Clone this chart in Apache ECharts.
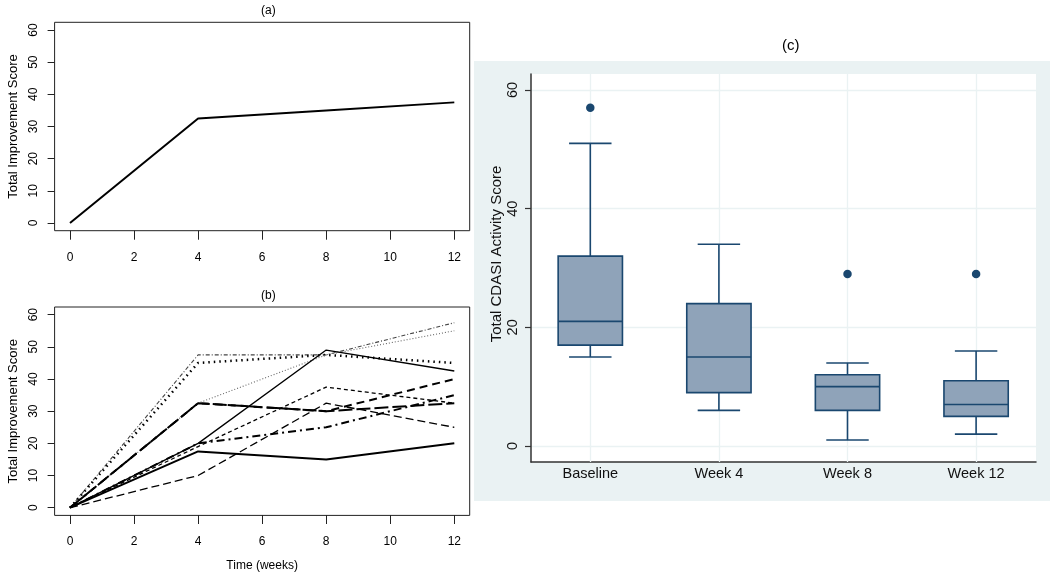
<!DOCTYPE html>
<html><head><meta charset="utf-8">
<script src="https://cdn.jsdelivr.net/npm/echarts@6/dist/echarts.min.js"></script>
<style>html,body{margin:0;padding:0;background:#fff}#c{width:1050px;height:573px}</style>
</head><body><div id="c"></div>
<script>
// ---------- data ----------
const weeks = [0, 4, 8, 12];
const overallImprovement = [0, 32.5, 35, 37.5];

const patient1 = [0, 47.5, 47.5, 57.5];
const patient2 = [0, 45, 47.5, 45];
const patient3 = [0, 32.5, 47.5, 55];
const patient4 = [0, 20, 49, 42.5];
const patient5 = [0, 17.5, 15, 20];
const patient6 = [0, 32.5, 30, 32.5];
const patient7 = [0, 32.5, 30, 40];
const patient8 = [0, 20, 25, 35];
const patient9 = [0, 19, 37.5, 32.5];
const patient10 = [0, 10, 32.5, 25];

const visits = ['Baseline', 'Week 4', 'Week 8', 'Week 12'];
const whiskerLow = [15, 6, 1, 2];
const q1 = [17, 9, 6, 5];
const median = [21, 15, 10, 7];
const q3 = [32, 24, 12, 11];
const whiskerHigh = [51, 34, 14, 16];
const outlierVisit = ['Baseline', 'Week 8', 'Week 12'];
const outlierValue = [57, 29, 29];

// ---------- layout ----------
const FONT = 'Liberation Sans, Arial, sans-serif';
const hidden = (g) => ({ gridIndex: g, type: 'value', show: false, min: 0, max: 1 });

const frame = (top) => ({ left: 54.6, top: top, width: 415.1, height: 208.4, show: true,
  borderColor: '#222', borderWidth: 1, backgroundColor: 'transparent' });

const grids = [
  { left: 474, top: 61, right: 0, bottom: 72, show: true, backgroundColor: '#eaf2f3', borderWidth: 0 }, // 0 c outer bg
  { left: 531, top: 74, width: 505, height: 388, show: true, backgroundColor: '#ffffff', borderWidth: 0 }, // 1 c plot bg
  { left: 526, top: 74, width: 514.4, height: 388 }, // 2 c vertical grid lines
  { left: 531, top: 90, width: 505, height: 356 }, // 3 c y axis + horizontal grid
  { left: 526, top: 90, width: 514.4, height: 356 }, // 4 c data
  frame(22.3),                                        // 5 a frame
  { left: 70, top: 30, width: 384.3, height: 193 },   // 6 a data
  { left: 70, top: 22.3, width: 384.3, height: 208.4 }, // 7 a x ticks
  { left: 54.6, top: 30, width: 415.1, height: 193 },   // 8 a y ticks
  frame(307),                                         // 9 b frame
  { left: 70, top: 314.7, width: 384.3, height: 193 }, // 10 b data
  { left: 70, top: 307, width: 384.3, height: 208.4 }, // 11 b x ticks
  { left: 54.6, top: 314.7, width: 415.1, height: 193 }, // 12 b y ticks
  { left: 531, top: 74, width: 505, height: 388 }      // 13 c axis lines
];

const rWeekAxis = (g, name) => ({
  gridIndex: g, type: 'value', min: 0, max: 12, interval: 2,
  axisLine: { show: false },
  axisTick: { show: true, length: 9, lineStyle: { color: '#222', width: 1 } },
  axisLabel: { fontSize: 12, color: '#000', margin: 21, fontFamily: FONT },
  splitLine: { show: false },
  name: name || '', nameLocation: 'middle', nameGap: 45,
  nameTextStyle: { fontSize: 12, color: '#000', fontFamily: FONT }
});
const rScoreAxis = (g) => ({
  gridIndex: g, type: 'value', min: 0, max: 60, interval: 10,
  axisLine: { show: false },
  axisTick: { show: true, length: 7, lineStyle: { color: '#222', width: 1 } },
  axisLabel: { fontSize: 12, color: '#000', margin: 15, rotate: 90, fontFamily: FONT },
  splitLine: { show: false },
  name: 'Total Improvement Score', nameLocation: 'middle', nameGap: 35, nameRotate: 90,
  nameTextStyle: { fontSize: 13, color: '#000', fontFamily: FONT }
});
const hiddenX = (g) => ({ gridIndex: g, type: 'value', min: 0, max: 12, show: false });
const hiddenY = (g) => ({ gridIndex: g, type: 'value', min: 0, max: 60, show: false });

const xAxes = [
  hidden(0), hidden(1),
  { gridIndex: 2, type: 'category', data: visits, boundaryGap: true,
    axisLine: { show: false }, axisLabel: { show: false }, splitLine: { show: false },
    axisTick: { show: true, alignWithLabel: true, inside: true, length: 388, lineStyle: { color: '#eaf2f3', width: 1.3 } } },
  hidden(3),
  { gridIndex: 4, type: 'category', data: visits, boundaryGap: true, offset: 15.7,
    axisLine: { show: false }, axisTick: { show: false }, splitLine: { show: false },
    axisLabel: { fontSize: 14.5, color: '#111', margin: 5, fontFamily: FONT } },
  hidden(5), hiddenX(6), rWeekAxis(7), hiddenX(8),
  hidden(9), hiddenX(10), rWeekAxis(11, 'Time (weeks)'), hiddenX(12),
  { gridIndex: 13, type: 'value', min: 0, max: 1,
    axisLine: { show: true, lineStyle: { color: '#333', width: 1.5 } },
    axisTick: { show: false }, axisLabel: { show: false }, splitLine: { show: false } }
];
const yAxes = [
  hidden(0), hidden(1), hidden(2),
  { gridIndex: 3, type: 'value', min: 0, max: 60, interval: 20,
    axisLine: { show: false },
    axisTick: { show: true, length: 6, lineStyle: { color: '#333', width: 1.2 } },
    axisLabel: { fontSize: 14.5, color: '#111', margin: 11, rotate: 90, fontFamily: FONT },
    splitLine: { show: true, lineStyle: { color: '#eaf2f3', width: 1.3 } },
    name: 'Total CDASI Activity Score', nameLocation: 'middle', nameGap: 25, nameRotate: 90,
    nameTextStyle: { fontSize: 15, color: '#111', fontFamily: FONT, padding: [0, 0, 0, 28] } },
  { gridIndex: 4, type: 'value', min: 0, max: 60, show: false },
  hidden(5), hiddenY(6), hiddenY(7), rScoreAxis(8),
  hidden(9), hiddenY(10), hiddenY(11), rScoreAxis(12),
  { gridIndex: 13, type: 'value', min: 0, max: 1,
    axisLine: { show: true, lineStyle: { color: '#333', width: 1.5 } },
    axisTick: { show: false }, axisLabel: { show: false }, splitLine: { show: false } }
];

const pts = (vals) => weeks.map((w, i) => [w, vals[i]]);
const rLine = (vals, color, width, type) => ({
  type: 'line', xAxisIndex: 10, yAxisIndex: 10, data: pts(vals), symbol: 'none',
  silent: true, animation: false,
  lineStyle: { color: color, width: width, type: type || 'solid', cap: 'butt' }
});

const boxData = visits.map((v, i) => [i, whiskerLow[i], q1[i], median[i], q3[i], whiskerHigh[i]]);
const NAVY = '#1a476f';

const series = [
  { type: 'line', xAxisIndex: 6, yAxisIndex: 6, data: pts(overallImprovement), symbol: 'none',
    silent: true, animation: false, lineStyle: { color: '#000', width: 2 } },
  rLine(patient1, '#444', 1.1, [4, 2, 1, 2]),
  rLine(patient2, '#000', 2.5, [1.5, 4]),
  rLine(patient3, '#666', 1.1, [1, 2]),
  rLine(patient4, '#000', 1.3, 'solid'),
  rLine(patient5, '#000', 2, 'solid'),
  rLine(patient6, '#000', 2, [14, 4]),
  rLine(patient7, '#000', 2, [8, 5]),
  rLine(patient8, '#000', 2, [8, 4, 2, 4]),
  rLine(patient9, '#000', 1.3, [4, 3]),
  rLine(patient10, '#000', 1.3, [8, 4]),
  { type: 'custom', xAxisIndex: 4, yAxisIndex: 4, data: boxData, silent: true, animation: false,
    encode: { x: 0, y: [1, 2, 3, 4, 5] },
    renderItem: function (params, api) {
      const x = api.value(0);
      const pLo = api.coord([x, api.value(1)]);
      const pQ1 = api.coord([x, api.value(2)]);
      const pMd = api.coord([x, api.value(3)]);
      const pQ3 = api.coord([x, api.value(4)]);
      const pHi = api.coord([x, api.value(5)]);
      const band = api.size([1, 0])[0];
      const hb = band * 0.25, hc = band * 0.165;
      const cx = pMd[0];
      const st = { stroke: NAVY, lineWidth: 1.6 };
      return { type: 'group', children: [
        { type: 'line', shape: { x1: cx, y1: pLo[1], x2: cx, y2: pQ1[1] }, style: st },
        { type: 'line', shape: { x1: cx, y1: pQ3[1], x2: cx, y2: pHi[1] }, style: st },
        { type: 'line', shape: { x1: cx - hc, y1: pLo[1], x2: cx + hc, y2: pLo[1] }, style: st },
        { type: 'line', shape: { x1: cx - hc, y1: pHi[1], x2: cx + hc, y2: pHi[1] }, style: st },
        { type: 'rect', shape: { x: cx - hb, y: pQ3[1], width: 2 * hb, height: pQ1[1] - pQ3[1] },
          style: { fill: '#8fa3b9', stroke: NAVY, lineWidth: 1.6 } },
        { type: 'line', shape: { x1: cx - hb, y1: pMd[1], x2: cx + hb, y2: pMd[1] }, style: st }
      ] };
    } },
  { type: 'scatter', xAxisIndex: 4, yAxisIndex: 4, silent: true, animation: false,
    data: outlierVisit.map((v, i) => [v, outlierValue[i]]),
    symbol: 'circle', symbolSize: 8.5, itemStyle: { color: NAVY, opacity: 1 } }
];

const chart = echarts.init(document.getElementById('c'), null, { renderer: 'canvas' });
chart.setOption({
  animation: false,
  textStyle: { fontFamily: FONT },
  title: [
    { text: '(a)', left: 256, top: 0, textStyle: { fontSize: 12, fontWeight: 'normal', color: '#000', fontFamily: FONT } },
    { text: '(b)', left: 256, top: 285, textStyle: { fontSize: 12, fontWeight: 'normal', color: '#000', fontFamily: FONT } },
    { text: '(c)', left: 777, top: 33, textStyle: { fontSize: 15, fontWeight: 'normal', color: '#000', fontFamily: FONT } }
  ],
  grid: grids,
  xAxis: xAxes,
  yAxis: yAxes,
  series: series
});
</script></body></html>
